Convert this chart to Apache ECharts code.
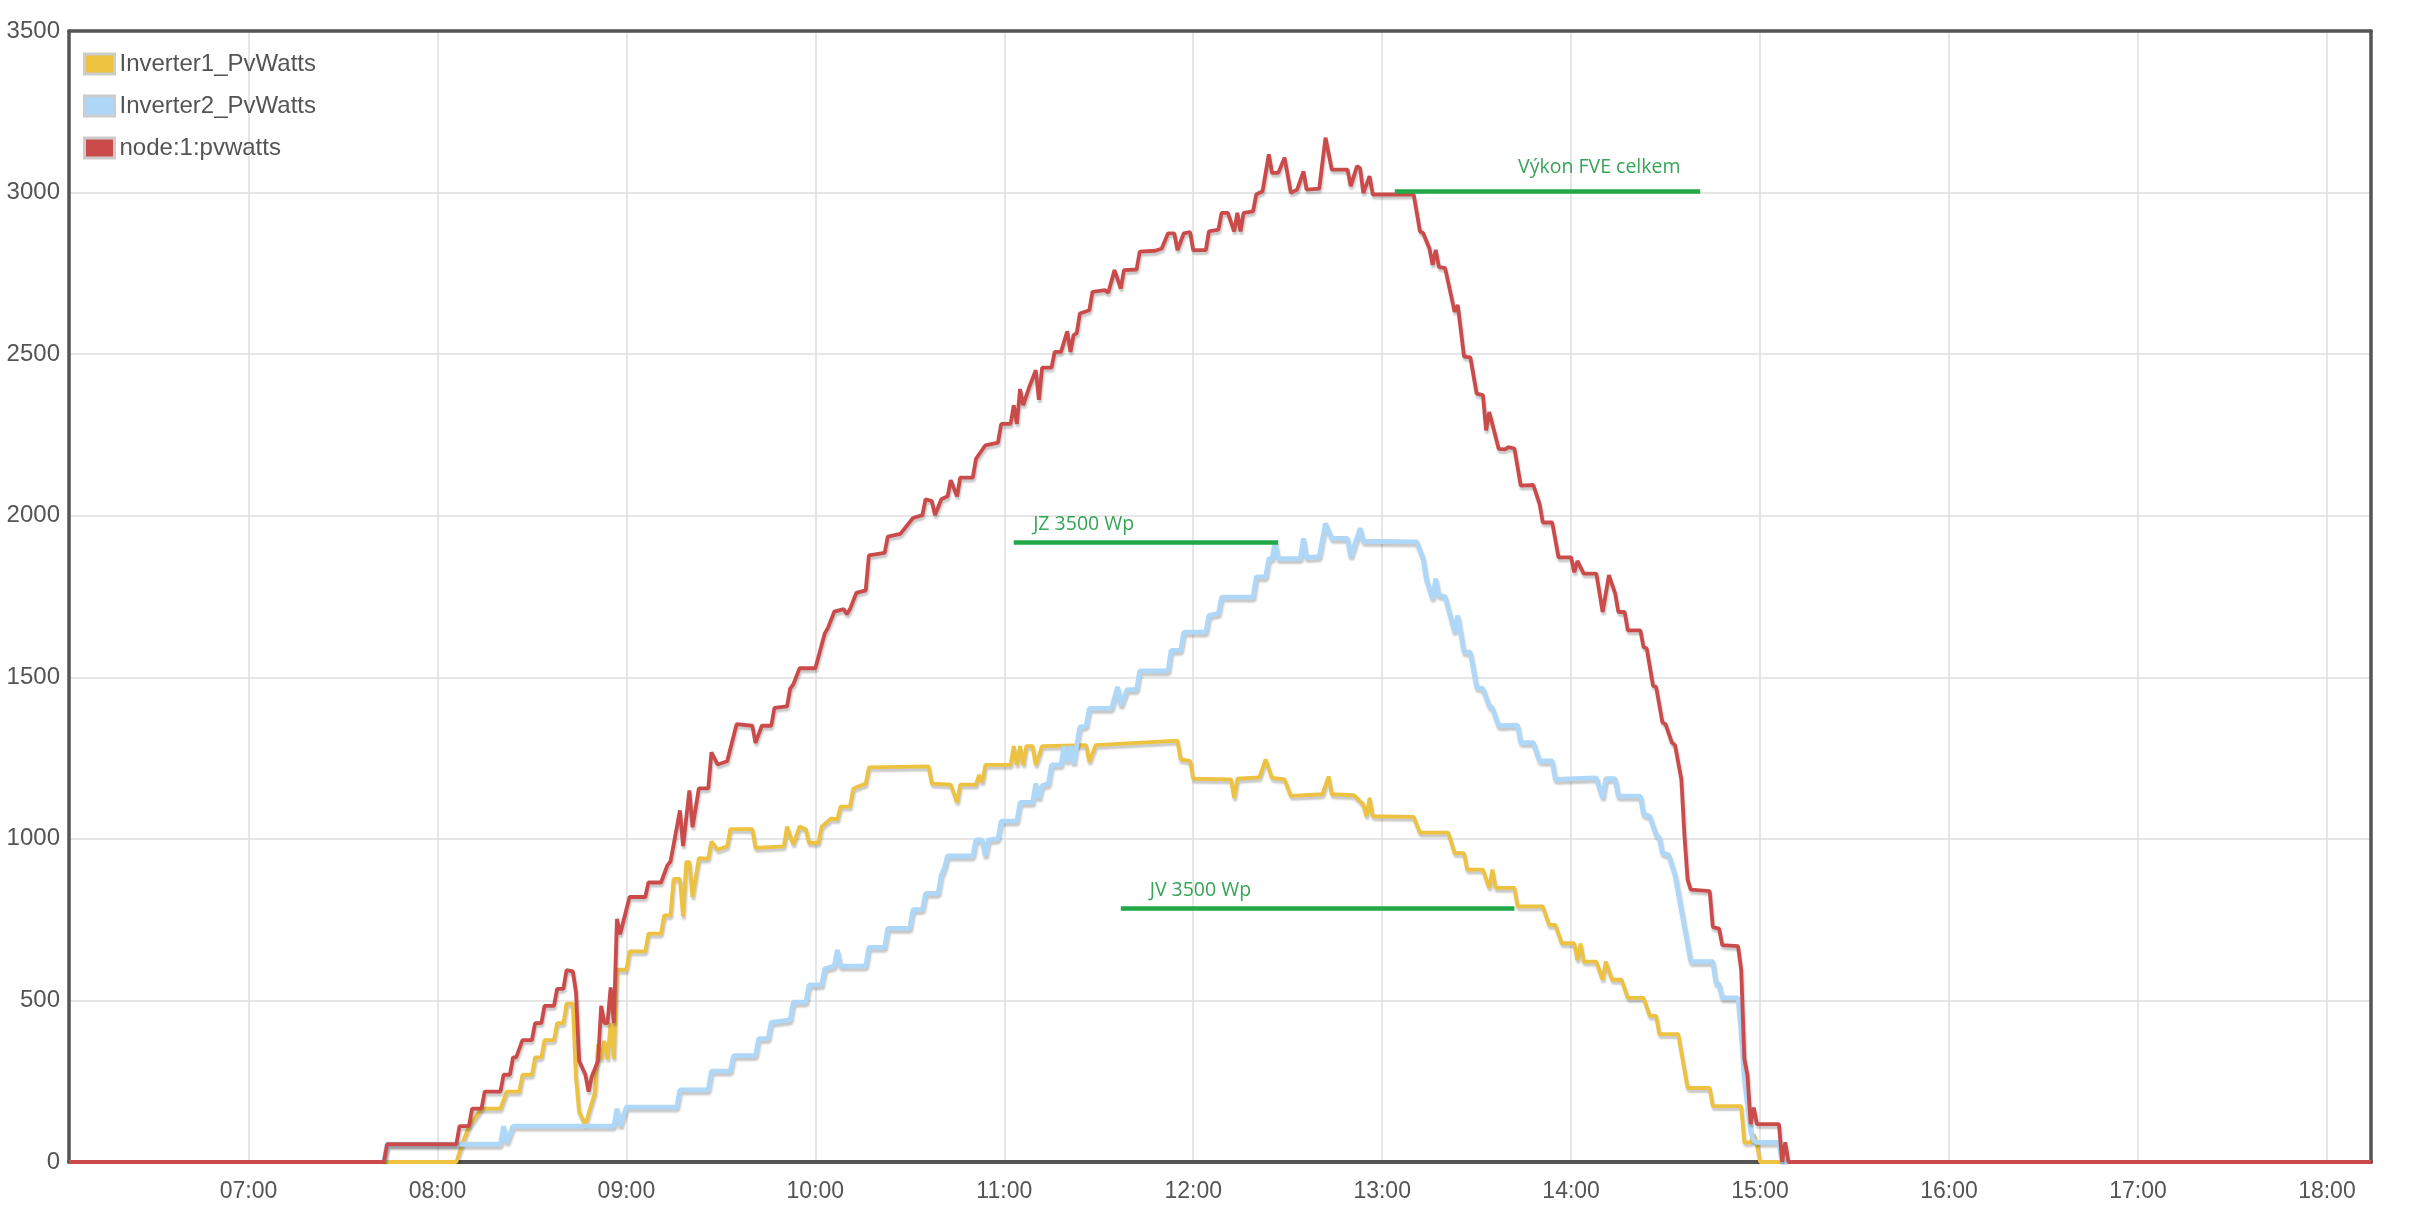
<!DOCTYPE html>
<html>
<head>
<meta charset="utf-8">
<script src="https://cdn.jsdelivr.net/npm/echarts@6/dist/echarts.min.js"></script>
<style>
html,body{margin:0;padding:0;background:#fff;}
#chart{width:2420px;height:1228px;}
</style>
</head>
<body>
<div id="chart"></div>
<script>
// ---- data (time "HH:MM", watts) ----
const seriesNames = ["Inverter1_PvWatts", "Inverter2_PvWatts", "node:1:pvwatts"];
const seriesColors = ["#edc240", "#afd8f8", "#cb4b4b"];
const axisRange = ["06:03", "18:14"];
const yTicks = [0, 500, 1000, 1500, 2000, 2500, 3000, 3500];

const inverter1 = [["07:43",0],["08:06",0],["08:08",60],["08:10",110],["08:14",165],["08:20",165],["08:22",218],["08:26",218],["08:27",270],["08:30",270],["08:31",324],["08:33",324],["08:34",377],["08:37",377],["08:38",430],["08:40",430],["08:41",490],["08:43",490],["08:44",260],["08:45",155],["08:47",115],["08:48",150],["08:50",215],["08:51",365],["08:52",318],["08:53",375],["08:54",318],["08:55",430],["08:56",320],["08:57",595],["09:00",595],["09:01",652],["09:06",652],["09:07",707],["09:11",707],["09:12",763],["09:14",763],["09:15",876],["09:17",876],["09:18",760],["09:19",928],["09:20",929],["09:21",820],["09:23",940],["09:26",939],["09:27",992],["09:29",966],["09:32",977],["09:33",1030],["09:40",1030],["09:41",972],["09:50",977],["09:51",1038],["09:53",983],["09:55",1038],["09:57",1030],["09:58",988],["10:01",988],["10:02",1038],["10:05",1063],["10:07",1060],["10:08",1100],["10:11",1100],["10:12",1154],["10:13",1160],["10:16",1171],["10:17",1221],["10:36",1224],["10:37",1171],["10:43",1168],["10:45",1113],["10:46",1168],["10:51",1168],["10:52",1198],["10:53",1175],["10:54",1229],["11:02",1229],["11:03",1287],["11:04",1229],["11:05",1287],["11:06",1229],["11:07",1287],["11:09",1287],["11:10",1229],["11:12",1287],["11:26",1290],["11:27",1238],["11:29",1290],["11:55",1304],["11:56",1246],["11:59",1241],["12:00",1186],["12:12",1184],["12:13",1127],["12:14",1186],["12:21",1190],["12:23",1246],["12:25",1189],["12:29",1184],["12:31",1133],["12:41",1138],["12:43",1193],["12:44",1138],["12:51",1135],["12:54",1107],["12:55",1070],["12:56",1127],["12:57",1070],["13:10",1068],["13:12",1019],["13:21",1019],["13:23",956],["13:26",956],["13:27",905],["13:32",905],["13:34",848],["13:35",905],["13:36",848],["13:42",848],["13:43",791],["13:51",791],["13:53",734],["13:55",734],["13:57",677],["14:01",677],["14:02",625],["14:03",676],["14:04",620],["14:08",620],["14:10",564],["14:11",620],["14:13",564],["14:16",564],["14:18",508],["14:23",508],["14:25",452],["14:27",452],["14:28",396],["14:34",396],["14:35",340],["14:37",229],["14:44",229],["14:45",173],["14:54",173],["14:55",61],["14:57",61],["14:58",85],["14:59",55],["15:00",0],["15:09",0]];

const inverter2 = [["07:43",0],["07:44",55],["08:20",55],["08:21",111],["08:22",60],["08:24",111],["08:56",111],["08:57",165],["08:58",111],["09:00",170],["09:16",170],["09:17",223],["09:26",223],["09:27",281],["09:33",281],["09:34",329],["09:41",329],["09:42",382],["09:45",382],["09:46",432],["09:52",440],["09:53",495],["09:57",495],["09:58",548],["10:02",548],["10:03",598],["10:06",606],["10:07",656],["10:08",606],["10:16",606],["10:17",664],["10:22",664],["10:23",723],["10:30",723],["10:31",781],["10:34",781],["10:35",831],["10:39",831],["10:40",889],["10:41",910],["10:42",947],["10:50",947],["10:51",997],["10:53",997],["10:54",947],["10:55",997],["10:58",1000],["10:59",1055],["11:04",1055],["11:05",1113],["11:09",1113],["11:10",1171],["11:11",1125],["11:12",1165],["11:14",1170],["11:15",1229],["11:18",1229],["11:19",1287],["11:20",1238],["11:21",1287],["11:22",1233],["11:24",1346],["11:26",1350],["11:27",1404],["11:34",1404],["11:36",1470],["11:37",1412],["11:39",1462],["11:42",1462],["11:43",1520],["11:52",1520],["11:53",1583],["11:56",1583],["11:57",1640],["12:04",1640],["12:05",1692],["12:08",1697],["12:09",1748],["12:19",1748],["12:20",1811],["12:23",1811],["12:24",1867],["12:25",1867],["12:26",1919],["12:27",1867],["12:34",1867],["12:35",1930],["12:36",1870],["12:40",1873],["12:42",1976],["12:44",1930],["12:49",1930],["12:50",1873],["12:53",1961],["12:54",1921],["13:11",1919],["13:13",1867],["13:14",1805],["13:16",1743],["13:17",1805],["13:18",1754],["13:20",1750],["13:23",1640],["13:24",1691],["13:26",1578],["13:28",1578],["13:30",1469],["13:32",1465],["13:34",1412],["13:35",1405],["13:37",1350],["13:43",1352],["13:44",1298],["13:48",1298],["13:50",1241],["13:54",1241],["13:55",1184],["14:08",1189],["14:10",1127],["14:11",1186],["14:14",1186],["14:15",1132],["14:22",1132],["14:23",1076],["14:25",1070],["14:27",1013],["14:28",1005],["14:29",956],["14:31",950],["14:33",889],["14:38",620],["14:45",620],["14:46",554],["14:47",550],["14:48",508],["14:53",508],["14:54",400],["14:55",259],["14:57",97],["14:58",66],["14:59",61],["15:06",61],["15:07",0],["15:09",0]];

const node1 = [["06:03",0],["07:43",0],["07:44",55],["08:06",55],["08:07",111],["08:10",111],["08:11",165],["08:14",165],["08:15",218],["08:20",218],["08:21",270],["08:23",270],["08:24",324],["08:25",324],["08:27",377],["08:30",377],["08:31",430],["08:33",430],["08:34",483],["08:37",483],["08:38",536],["08:40",536],["08:41",594],["08:43",590],["08:44",525],["08:45",313],["08:47",270],["08:48",218],["08:49",265],["08:51",313],["08:52",483],["08:53",430],["08:54",430],["08:55",540],["08:56",430],["08:57",752],["08:58",705],["09:01",820],["09:06",820],["09:07",865],["09:11",865],["09:13",918],["09:14",930],["09:17",1088],["09:18",978],["09:20",1150],["09:21",1036],["09:23",1156],["09:26",1156],["09:27",1268],["09:29",1230],["09:32",1240],["09:35",1355],["09:40",1350],["09:41",1297],["09:43",1350],["09:46",1350],["09:47",1405],["09:51",1410],["09:52",1465],["09:53",1478],["09:55",1528],["10:00",1528],["10:03",1636],["10:04",1653],["10:06",1703],["10:09",1711],["10:10",1695],["10:11",1711],["10:13",1761],["10:16",1769],["10:17",1877],["10:22",1885],["10:23",1935],["10:27",1944],["10:31",1993],["10:34",2002],["10:35",2051],["10:37",2045],["10:38",2002],["10:40",2051],["10:42",2060],["10:43",2110],["10:45",2060],["10:46",2118],["10:50",2118],["10:51",2176],["10:54",2218],["10:58",2226],["10:59",2284],["11:02",2284],["11:03",2342],["11:04",2284],["11:05",2392],["11:06",2342],["11:08",2400],["11:10",2450],["11:11",2359],["11:12",2458],["11:15",2458],["11:16",2507],["11:18",2507],["11:20",2571],["11:21",2507],["11:22",2559],["11:23",2565],["11:24",2626],["11:27",2636],["11:28",2693],["11:32",2698],["11:33",2690],["11:35",2760],["11:37",2703],["11:38",2760],["11:42",2762],["11:43",2817],["11:48",2820],["11:50",2827],["11:52",2874],["11:54",2874],["11:55",2822],["11:57",2874],["11:59",2878],["12:00",2822],["12:04",2822],["12:05",2880],["12:08",2885],["12:09",2937],["12:11",2937],["12:13",2880],["12:14",2937],["12:15",2880],["12:16",2937],["12:19",2942],["12:20",2994],["12:22",3004],["12:24",3118],["12:25",3061],["12:27",3061],["12:29",3108],["12:31",2999],["12:33",3009],["12:35",3066],["12:36",3009],["12:40",3012],["12:42",3170],["12:44",3071],["12:49",3071],["12:50",3020],["12:52",3082],["12:53",3075],["12:54",2999],["12:56",3051],["12:57",2994],["13:10",2994],["13:12",2880],["13:13",2875],["13:15",2828],["13:16",2776],["13:17",2823],["13:18",2770],["13:20",2766],["13:23",2631],["13:24",2652],["13:26",2492],["13:28",2490],["13:30",2378],["13:32",2373],["13:33",2264],["13:34",2321],["13:37",2207],["13:39",2205],["13:40",2212],["13:42",2208],["13:44",2093],["13:48",2095],["13:50",2036],["13:51",1979],["13:54",1979],["13:56",1871],["14:00",1871],["14:01",1825],["14:02",1860],["14:04",1821],["14:08",1821],["14:10",1702],["14:12",1816],["14:14",1759],["14:15",1702],["14:17",1702],["14:18",1645],["14:22",1645],["14:23",1593],["14:24",1590],["14:26",1474],["14:27",1470],["14:29",1360],["14:30",1355],["14:32",1298],["14:33",1290],["14:35",1184],["14:36",1008],["14:37",873],["14:38",843],["14:44",838],["14:45",727],["14:47",722],["14:48",671],["14:53",668],["14:54",595],["14:55",320],["14:56",269],["14:57",117],["14:58",168],["14:59",117],["15:06",117],["15:07",0],["15:08",61],["15:09",0],["18:14",0]];

// hand-drawn green annotations: [startTime, endTime, value]
const annoLines = [["13:04","14:41",3005],["11:03","12:27",1918],["11:37","13:42",786]];
// annotation texts: [text, time, value]
const annoTexts = [["Výkon FVE celkem","13:43",3077],["JZ 3500 Wp","11:09",1972],["JV 3500 Wp","11:46",840]];

// ---- build ----
const T = s => { const [h, m] = s.split(':').map(Number); return Date.UTC(2020, 0, 1, h, m); };
const toPts = arr => arr.map(p => [T(p[0]), p[1]]);
const FONT = "'Liberation Sans', Arial, sans-serif";
const GREEN = '#22a847';
const BORDER = '#545454';

const chart = echarts.init(document.getElementById('chart'), null, {renderer: 'canvas'});
const seriesData = [inverter1, inverter2, node1];
const widths = [3.8, 4.8, 3.8];

const series = seriesData.map((d, i) => ({
  name: seriesNames[i],
  type: 'line',
  data: toPts(d),
  showSymbol: false,
  symbol: 'none',
  animation: false,
  color: seriesColors[i],
  lineStyle: {
    color: seriesColors[i], width: widths[i],
    shadowColor: 'rgba(0,0,0,0.22)', shadowBlur: 2, shadowOffsetX: 1, shadowOffsetY: 3
  },
  z: 2 + i
}));

series[2].markLine = {
  silent: true, symbol: 'none', animation: false,
  label: {show: false},
  lineStyle: {color: GREEN, width: 4.5, type: 'solid', shadowBlur: 0},
  data: annoLines.map(a => [{coord: [T(a[0]), a[2]]}, {coord: [T(a[1]), a[2]]}])
};
series[2].markPoint = {
  silent: true, animation: false,
  symbol: 'circle', symbolSize: 1,
  itemStyle: {color: 'rgba(0,0,0,0)'},
  label: {show: true, position: 'right', distance: 0, color: '#35a457',
          fontFamily: "'Open Sans', sans-serif", fontSize: 19.5,
          formatter: p => p.name},
  data: annoTexts.map(a => ({name: a[0], coord: [T(a[1]), a[2]]}))
};

chart.setOption({
  animation: false,
  backgroundColor: '#fff',
  grid: {left: 69, right: 49, top: 31, bottom: 66, show: false, containLabel: false},
  legend: {
    left: 78, top: 47, orient: 'vertical', itemGap: 18,
    icon: 'rect', itemWidth: 30, itemHeight: 20,
    itemStyle: {borderColor: '#cccccc', borderWidth: 3},
    textStyle: {fontFamily: FONT, fontSize: 24, color: '#545454', lineHeight: 24},
    data: seriesNames
  },
  xAxis: [{
    type: 'time',
    min: T(axisRange[0]), max: T(axisRange[1]),
    splitNumber: 12, minInterval: 3600000, maxInterval: 3600000,
    axisLine: {show: true, onZero: false, lineStyle: {color: BORDER, width: 4}},
    axisTick: {show: false},
    axisLabel: {fontFamily: FONT, fontSize: 23, color: '#545454', margin: 18,
                formatter: '{HH}:{mm}', showMinLabel: false, showMaxLabel: false},
    splitLine: {show: true, lineStyle: {color: '#dedede', width: 1.5}}
  }, {
    type: 'time', position: 'top',
    min: T(axisRange[0]), max: T(axisRange[1]),
    axisLine: {show: true, onZero: false, lineStyle: {color: BORDER, width: 3.5}},
    axisTick: {show: false}, axisLabel: {show: false}, splitLine: {show: false}
  }],
  yAxis: [{
    type: 'value', min: yTicks[0], max: yTicks[yTicks.length - 1], interval: 500,
    axisLine: {show: true, onZero: false, lineStyle: {color: BORDER, width: 3.5}}, axisTick: {show: false},
    axisLabel: {fontFamily: FONT, fontSize: 24, color: '#545454', margin: 9,
                formatter: v => String(v)},
    splitLine: {show: true, lineStyle: {color: '#dedede', width: 1.5}}
  }, {
    type: 'value', position: 'right', min: yTicks[0], max: yTicks[yTicks.length - 1],
    axisLine: {show: true, onZero: false, lineStyle: {color: BORDER, width: 3.5}},
    axisTick: {show: false}, axisLabel: {show: false}, splitLine: {show: false}
  }],
  series: series
});
</script>
</body>
</html>
